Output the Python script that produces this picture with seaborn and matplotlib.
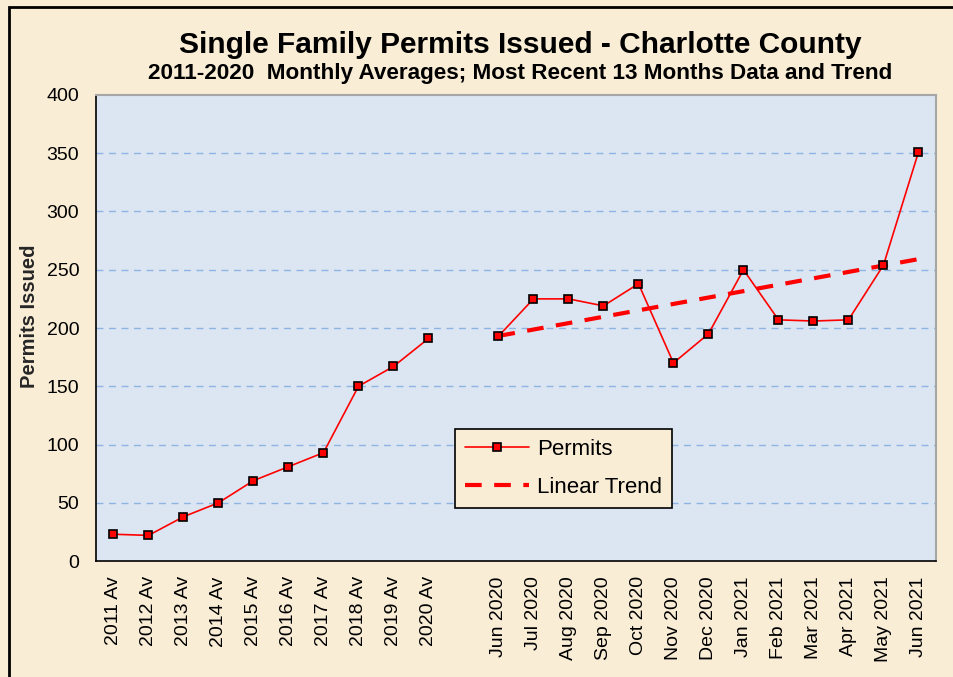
import numpy as np
import pandas as pd
import matplotlib.pyplot as plt
import seaborn as sns
from matplotlib.lines import Line2D
from matplotlib.patches import Rectangle

# Annual averages 2011-2020 and the most recent 13 months
annual_labels = ['2011 Av', '2012 Av', '2013 Av', '2014 Av', '2015 Av',
                 '2016 Av', '2017 Av', '2018 Av', '2019 Av', '2020 Av']
annual_values = [23, 22, 38, 50, 69, 81, 93, 150, 167, 191]

month_labels = ['Jun 2020', 'Jul 2020', 'Aug 2020', 'Sep 2020', 'Oct 2020',
                'Nov 2020', 'Dec 2020', 'Jan 2021', 'Feb 2021', 'Mar 2021',
                'Apr 2021', 'May 2021', 'Jun 2021']
month_values = [193, 225, 225, 219, 238, 170, 195, 250, 207, 206, 207, 254, 351]

labels = annual_labels + [''] + month_labels
annual_df = pd.DataFrame({'pos': np.arange(len(annual_labels)), 'permits': annual_values})
month_df = pd.DataFrame({'pos': np.arange(len(month_labels)) + len(annual_labels) + 1,
                         'permits': month_values})

# linear trend over the monthly data
coef = np.polyfit(month_df['pos'], month_df['permits'], 1)
month_df['trend'] = np.polyval(coef, month_df['pos'])

sns.set_style('white')
plt.rcParams['font.family'] = ['Liberation Sans', 'DejaVu Sans']
plt.rcParams['text.color'] = 'black'
plt.rcParams['xtick.color'] = 'black'
plt.rcParams['ytick.color'] = 'black'

bg = '#f9edd6'
fig = plt.figure(figsize=(9.54, 6.77), dpi=100)
fig.patch.set_facecolor(bg)
ax = fig.add_axes([0.1006, 0.1713, 0.8805, 0.6884])
ax.set_facecolor('#dce6f2')

for y in range(50, 400, 50):
    ax.axhline(y, color='#8db4e2', lw=1, ls=(0, (5, 4)), zorder=0)

line_kw = dict(color='#ff0000', lw=1.2, marker='s', markersize=6,
               markerfacecolor='#ff0000', markeredgecolor='black', markeredgewidth=1.2)
sns.lineplot(data=annual_df, x='pos', y='permits', ax=ax, zorder=3, **line_kw)
sns.lineplot(data=month_df, x='pos', y='permits', ax=ax, zorder=3, **line_kw)
sns.lineplot(data=month_df, x='pos', y='trend', ax=ax, color='#ff0000', lw=3,
             ls=(0, (4, 3)), zorder=2)

ax.set_xlim(-0.5, len(labels) - 0.5)
ax.set_ylim(0, 400)
ax.set_yticks(range(0, 401, 50))
ax.set_xticks(np.arange(len(labels) + 1) - 0.5)
ax.set_xticklabels([])
ax.set_xticks(np.arange(len(labels)), minor=True)
ax.set_xticklabels(labels, minor=True, rotation=90, fontsize=14)
ax.tick_params(axis='x', which='major', direction='out', length=5, width=1)
ax.tick_params(axis='x', which='minor', length=0, pad=11)
ax.tick_params(axis='y', direction='out', length=5, width=1, labelsize=14, pad=7)
ax.set_xlabel('')
ax.set_ylabel('Permits Issued', fontsize=14.5, fontweight='bold')
ax.yaxis.set_label_coords(-0.068, 0.525)

for side in ['left', 'bottom']:
    ax.spines[side].set_color('black')
    ax.spines[side].set_linewidth(1.2)
for side in ['top', 'right']:
    ax.spines[side].set_color('#a6a6a6')
    ax.spines[side].set_linewidth(1.5)

handles = [Line2D([], [], **line_kw),
           Line2D([], [], color='#ff0000', lw=3, ls=(0, (4, 3)))]
leg = ax.legend(handles, ['Permits', 'Linear Trend'], loc='lower left',
                bbox_to_anchor=(0.427, 0.114), fontsize=16, frameon=True,
                fancybox=False, handlelength=2.9, handletextpad=0.35,
                borderpad=0.45, labelspacing=0.75, borderaxespad=0)
leg.get_frame().set_facecolor(bg)
leg.get_frame().set_edgecolor('black')
leg.get_frame().set_linewidth(1.2)
leg.get_frame().set_alpha(1)

fig.text(0.545, 0.934, 'Single Family Permits Issued - Charlotte County',
         ha='center', va='center', fontsize=21.5, fontweight='bold')
fig.text(0.545, 0.892, '2011-2020  Monthly Averages; Most Recent 13 Months Data and Trend',
         ha='center', va='center', fontsize=16.2, fontweight='bold')

fig.patches.append(Rectangle((0.009, -0.01), 1.0, 0.999, transform=fig.transFigure,
                             fill=False, edgecolor='black', lw=2))

fig.savefig('out.png', dpi=100, facecolor=fig.get_facecolor())
